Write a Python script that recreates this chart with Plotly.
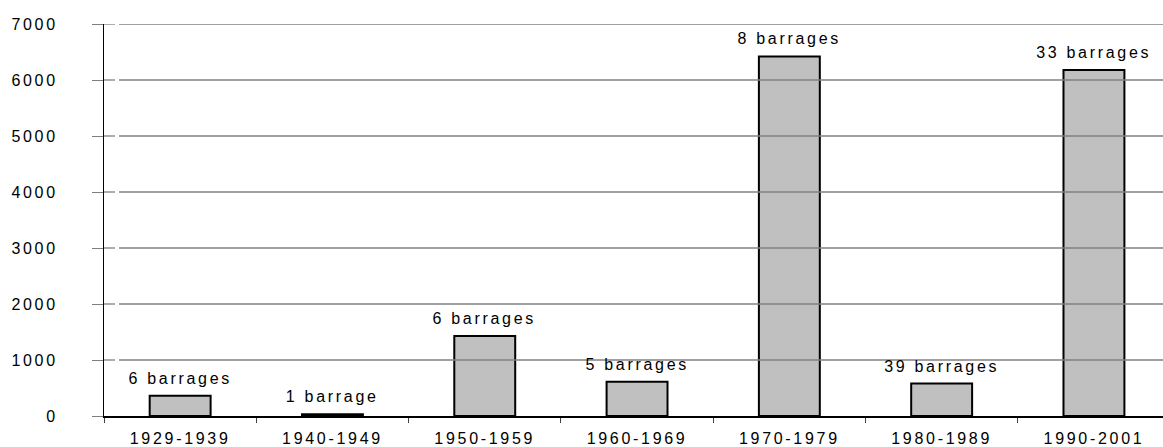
import plotly.graph_objects as go

# Installed capacity per decade, with the number of dams built in each period
decades = ["1929-1939", "1940-1949", "1950-1959", "1960-1969",
           "1970-1979", "1980-1989", "1990-2001"]
capacity = [360, 30, 1430, 610, 6420, 580, 6180]
dam_labels = ["6 barrages", "1 barrage", "6 barrages", "5 barrages",
              "8 barrages", "39 barrages", "33 barrages"]
y_ticks = [0, 1000, 2000, 3000, 4000, 5000, 6000, 7000]

W, H = 1163, 447
ML, MT, MB = 104, 24, 31
plot_w = W - ML
cat_px = 152.3  # width of one category slot in pixels

FONT = "Liberation Sans, Arial, sans-serif"

fig = go.Figure()
fig.add_trace(go.Bar(
    x=decades,
    y=capacity,
    width=0.4,
    marker=dict(color="#C0C0C0", line=dict(color="#000000", width=2)),
    hoverinfo="x+y",
))

# count of dams written above each bar
for d, v, lab in zip(decades, capacity, dam_labels):
    fig.add_annotation(x=d, y=v, text=lab, showarrow=False,
                       yanchor="bottom", yshift=7,
                       font=dict(family=FONT, size=16, color="#000000"))

# horizontal guides: a short stub across the axis, then a small gap
for t in y_ticks[1:]:
    fig.add_shape(type="line", xref="paper", yref="y",
                  x0=0, x1=11 / plot_w, y0=t, y1=t,
                  line=dict(color="#808080", width=1.3))
    fig.add_shape(type="line", xref="paper", yref="y",
                  x0=15 / plot_w, x1=1, y0=t, y1=t,
                  line=dict(color="#808080", width=1.3))

fig.update_layout(
    width=W, height=H,
    margin=dict(l=ML, r=0, t=MT, b=MB, pad=0),
    plot_bgcolor="#FFFFFF", paper_bgcolor="#FFFFFF",
    showlegend=False,
    font=dict(family=FONT, size=16, color="#000000"),
    bargap=0.6,
)
fig.update_xaxes(
    type="category",
    range=[-0.5, -0.5 + plot_w / cat_px],
    tickson="boundaries",
    ticks="outside", ticklen=5, tickwidth=1, tickcolor="#404040",
    showline=True, linecolor="#000000", linewidth=2,
    showgrid=False,
    ticklabelstandoff=7,
    tickfont=dict(family=FONT, size=16, color="#000000"),
)
fig.update_yaxes(
    range=[0, 7000],
    tickvals=y_ticks,
    ticks="outside", ticklen=11, tickwidth=1.3, tickcolor="#808080",
    showline=True, linecolor="#000000", linewidth=1,
    showgrid=False, zeroline=False,
    ticklabelstandoff=31,
    tickfont=dict(family=FONT, size=16, color="#000000"),
)

# widen the character spacing of all drawn text
fig.write_html(
    "out.html",
    post_script=(
        "var gd = document.getElementById('{plot_id}');"
        "gd.querySelectorAll('text').forEach(function(t){"
        "t.style.letterSpacing='2.7px';});"
    ),
)
